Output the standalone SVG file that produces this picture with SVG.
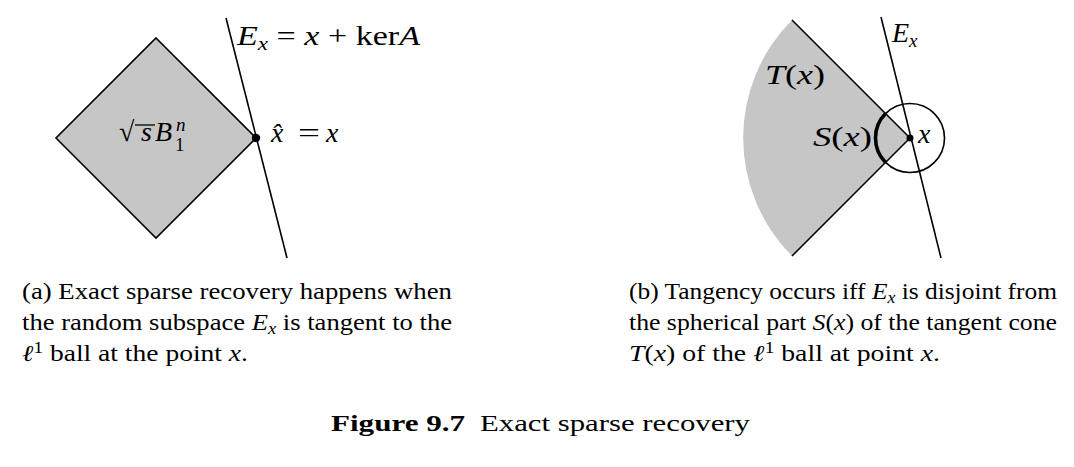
<svg xmlns="http://www.w3.org/2000/svg" width="1074" height="467" viewBox="0 0 1074 467">
<style>
text{font-family:"Liberation Serif","Times New Roman","DejaVu Serif",serif;fill:#000}
.m{font-size:28px}
.c{font-size:23px}
.i{font-style:italic}
.sub{font-size:19px}
.csub{font-size:16px}
.ln{stroke:#000;stroke-width:1.6;fill:none}
.fill{fill:#c6c6c6}
</style>
<rect width="1074" height="467" fill="#fff"/>
<g id="fig-a">
  <polygon id="ball" class="fill" points="156,38 256,138 156,238 56,138" stroke="#000" stroke-width="1.6"/>
  <line id="Ex-a" class="ln" x1="226" y1="18" x2="287" y2="258"/>
  <circle id="pt-a" cx="256" cy="138" r="4.2" fill="#000"/>
  <text class="m" x="237" y="45" textLength="183" lengthAdjust="spacingAndGlyphs"><tspan class="i">E</tspan><tspan class="i sub" dy="5">x</tspan><tspan dy="-5"> = </tspan><tspan class="i">x</tspan><tspan> + ker</tspan><tspan class="i">A</tspan></text>
  <text class="m" x="119" y="141">√</text>
  <line x1="135" y1="125" x2="155" y2="125" stroke="#000" stroke-width="1.3"/>
  <text class="m i" x="141" y="141">s</text>
  <text class="m i" x="155" y="141">B</text>
  <text class="sub" x="175" y="151">1</text>
  <text class="sub i" x="176" y="131">n</text>
  <text class="m i" x="271" y="142">x̂</text>
  <text class="m" x="298" y="142" textLength="22" lengthAdjust="spacingAndGlyphs">=</text>
  <text class="m i" x="326" y="142">x</text>
</g>
<g id="fig-b">
  <path id="cone" class="fill" d="M910 138 L792 20 A167 167 0 0 0 792 256 Z"/>
  <line class="ln" x1="792" y1="20" x2="910" y2="138"/>
  <line class="ln" x1="792" y1="256" x2="910" y2="138"/>
  <circle id="sphere" class="ln" cx="910" cy="138" r="34.5"/>
  <path id="Sx" d="M885.6 113.6 A34.5 34.5 0 0 0 885.6 162.4" stroke="#000" stroke-width="3.6" fill="none"/>
  <line id="Ex-b" class="ln" x1="881" y1="17" x2="941" y2="258"/>
  <circle id="pt-b" cx="910" cy="138" r="3.5" fill="#000"/>
  <text class="m" x="892" y="42"><tspan class="i">E</tspan><tspan class="i sub" dy="5">x</tspan></text>
  <text class="m" x="765" y="84" textLength="60" lengthAdjust="spacingAndGlyphs"><tspan class="i">T</tspan>(<tspan class="i">x</tspan>)</text>
  <text class="m" x="813" y="146" textLength="59" lengthAdjust="spacingAndGlyphs"><tspan class="i">S</tspan>(<tspan class="i">x</tspan>)</text>
  <text class="m i" x="918" y="143">x</text>
</g>
<g id="captions">
  <text class="c" x="22" y="299" textLength="430" lengthAdjust="spacingAndGlyphs">(a) Exact sparse recovery happens when</text>
  <text class="c" x="22" y="330" textLength="430" lengthAdjust="spacingAndGlyphs">the random subspace <tspan class="i">E</tspan><tspan class="i csub" dy="4">x</tspan><tspan dy="-4"> is tangent to the</tspan></text>
  <text class="c" x="22" y="361" textLength="226" lengthAdjust="spacingAndGlyphs"><tspan class="i">ℓ</tspan><tspan class="csub" dy="-8">1</tspan><tspan dy="8"> ball at the point </tspan><tspan class="i">x</tspan>.</text>
  <text class="c" x="629" y="299" textLength="428" lengthAdjust="spacingAndGlyphs">(b) Tangency occurs iff <tspan class="i">E</tspan><tspan class="i csub" dy="4">x</tspan><tspan dy="-4"> is disjoint from</tspan></text>
  <text class="c" x="629" y="330" textLength="428" lengthAdjust="spacingAndGlyphs">the spherical part <tspan class="i">S</tspan>(<tspan class="i">x</tspan>) of the tangent cone</text>
  <text class="c" x="629" y="361" textLength="311" lengthAdjust="spacingAndGlyphs"><tspan class="i">T</tspan>(<tspan class="i">x</tspan>) of the <tspan class="i">ℓ</tspan><tspan class="csub" dy="-8">1</tspan><tspan dy="8"> ball at point </tspan><tspan class="i">x</tspan>.</text>
  <text x="331" y="431" font-size="24" font-weight="bold" textLength="134" lengthAdjust="spacingAndGlyphs">Figure 9.7</text>
  <text x="480" y="431" font-size="24" textLength="270" lengthAdjust="spacingAndGlyphs">Exact sparse recovery</text>
</g>
</svg>
